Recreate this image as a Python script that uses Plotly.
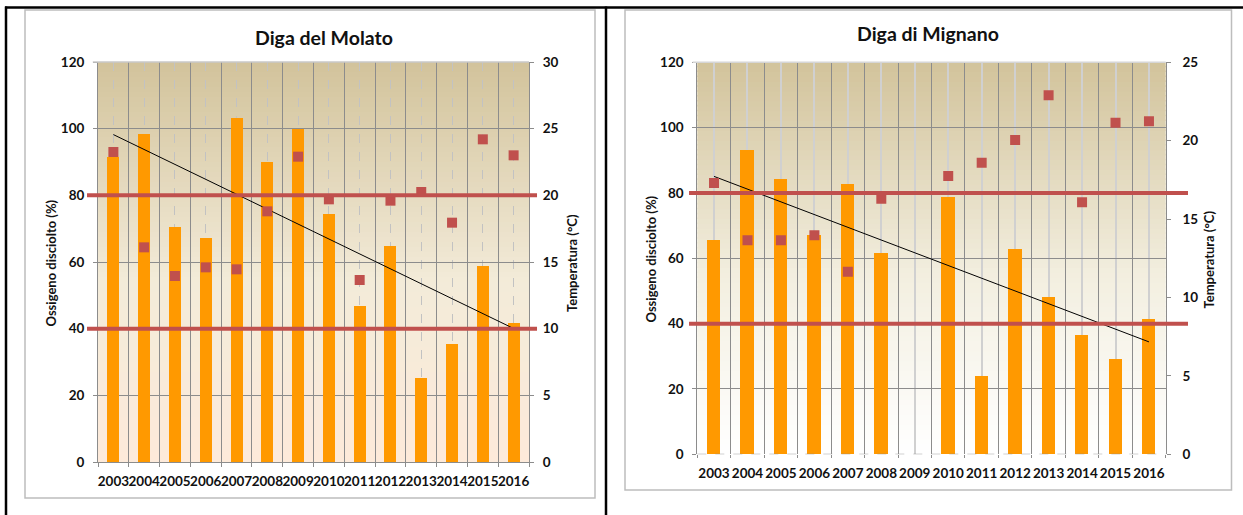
import numpy as np
import plotly.graph_objects as go

W, H = 1243, 515

years = [str(y) for y in range(2003, 2017)]

# Diga del Molato: dissolved oxygen (%) and water temperature (°C)
molato_ossigeno = [91.4, 98.4, 70.5, 67.2, 103.2, 90.0, 99.8, 74.4, 46.8, 64.9, 25.3, 35.4, 58.8, 41.8]
molato_temperatura = [23.25, 16.1, 13.95, 14.6, 14.45, 18.8, 22.9, 19.7, 13.65, 19.6, 20.25, 17.95, 24.2, 23.0]

# Diga di Mignano: no survey in 2009
mignano_ossigeno = [65.4, 93.2, 84.1, 67.0, 82.7, 61.6, None, 78.8, 24.0, 62.8, 48.2, 36.3, 29.2, 41.4]
mignano_temperatura = [17.3, 13.65, 13.65, 13.97, 11.65, 16.3, None, 17.75, 18.6, 20.05, 22.9, 16.07, 21.15, 21.24]

# oxygen saturation reference thresholds (%)
soglie_ossigeno = [40, 80]

FONT = "Lato"
BAR = "#FF9900"
RED = "#C0504D"
GRID = "#8C8C8C"
TXT = "#111111"

pos = list(range(len(years)))


def px_x(v):
    return v / W


def px_y(v):
    return 1 - v / H


def trend(values):
    xs = np.array([i for i, v in enumerate(values) if v is not None], dtype=float)
    ys = np.array([v for v in values if v is not None], dtype=float)
    m, q = np.polyfit(xs, ys, 1)
    xx = [xs.min(), xs.max()]
    return xx, [m * x + q for x in xx]


def lerp_color(stops, t):
    for (t0, c0), (t1, c1) in zip(stops[:-1], stops[1:]):
        if t0 <= t <= t1:
            f = (t - t0) / (t1 - t0) if t1 > t0 else 0
            c = [round(a + (b - a) * f) for a, b in zip(c0, c1)]
            return "rgb(%d,%d,%d)" % tuple(c)
    return "rgb(%d,%d,%d)" % stops[-1][1]


fig = go.Figure()

charts = [
    dict(x="x", y="y", y2="y2", ox=molato_ossigeno, tc=molato_temperatura, bw=0.39),
    dict(x="x2", y="y3", y2="y4", ox=mignano_ossigeno, tc=mignano_temperatura, bw=0.40),
]

for c in charts:
    fig.add_trace(go.Bar(x=pos, y=c["ox"], width=c["bw"], marker=dict(color=BAR, line=dict(width=0)),
                         xaxis=c["x"], yaxis=c["y"], showlegend=False))
    tx, ty = trend(c["ox"])
    fig.add_trace(go.Scatter(x=tx, y=ty, mode="lines", line=dict(color="#000000", width=1),
                             xaxis=c["x"], yaxis=c["y"], showlegend=False))
    fig.add_trace(go.Scatter(x=pos, y=c["tc"], mode="markers",
                             marker=dict(symbol="square", size=10, color=RED, line=dict(width=0)),
                             xaxis=c["x"], yaxis=c["y2"], showlegend=False))

tickfont = dict(family=FONT, size=13.5, color=TXT, weight="bold")
bounds = [i - 0.5 for i in range(len(years) + 1)]

# plot area rectangles in pixels: (left, top, right, bottom)
areaL = (98, 62, 529, 462)
areaR = (697.3, 62.3, 1165.7, 454.3)


def xdom(a):
    return [px_x(a[0]), px_x(a[2])]


def ydom(a):
    return [px_y(a[3]), px_y(a[1])]


common_x = dict(range=[-0.5, len(years) - 0.5], tickvals=pos, ticktext=years, ticks="",
                tickangle=0, tickfont=tickfont, zeroline=False, fixedrange=True,
                automargin=False)
common_y = dict(tick0=0, dtick=5, ticks="outside", ticklen=4, tickcolor=GRID, showline=True,
                linecolor=GRID, zeroline=False, tickfont=tickfont, automargin=False,
                fixedrange=True)

fig.update_layout(
    xaxis=dict(domain=xdom(areaL), anchor="y", showgrid=True, gridcolor="#C2C2C2", griddash="dash",
               gridwidth=1, showline=True, linecolor=GRID, linewidth=1,
               minor=dict(tickvals=bounds, showgrid=True, gridcolor=GRID, gridwidth=1.2,
                          griddash="solid", ticks="outside", ticklen=4, tickcolor=GRID),
               ticklabelstandoff=7, **common_x),
    yaxis=dict(domain=ydom(areaL), anchor="x", range=[0, 120], showgrid=True,
               gridcolor=GRID, gridwidth=1, ticklabelstandoff=6, **{**common_y, "dtick": 20}),
    yaxis2=dict(overlaying="y", anchor="x", side="right", range=[0, 30], showgrid=False,
                ticklabelstandoff=6, **common_y),
    xaxis2=dict(domain=xdom(areaR), anchor="y3", showgrid=True, gridcolor="#D0D0D0",
                gridwidth=1.6, showline=False,
                minor=dict(tickvals=bounds, showgrid=True, gridcolor=GRID, gridwidth=1.2,
                           griddash="solid", ticks="outside", ticklen=3, tickcolor=GRID),
                ticklabelstandoff=9, **common_x),
    yaxis3=dict(domain=ydom(areaR), anchor="x2", range=[0, 120], showgrid=True,
                gridcolor=GRID, gridwidth=1, ticklabelstandoff=6, **{**common_y, "dtick": 20}),
    yaxis4=dict(overlaying="y3", anchor="x2", side="right", range=[0, 25], showgrid=False,
                ticklabelstandoff=9, **common_y),
    width=W, height=H, autosize=False, margin=dict(l=0, r=0, t=0, b=0, pad=0),
    paper_bgcolor="#FFFFFF", plot_bgcolor="rgba(0,0,0,0)",
    bargap=0, showlegend=False,
)

shapes = []

# gradient fill behind each plot area
grad_left = [(0.0, (253, 234, 218)), (0.45, (243, 235, 217)), (1.0, (210, 195, 155))]
grad_right = [(0.0, (255, 255, 255)), (0.45, (243, 239, 224)), (1.0, (210, 195, 155))]
N = 80
for xr, yr, stops in [("x domain", "y domain", grad_left), ("x2 domain", "y3 domain", grad_right)]:
    for i in range(N):
        t = (i + 0.5) / N
        shapes.append(dict(type="rect", xref=xr, yref=yr, x0=0, x1=1, y0=i / N,
                           y1=min(1, (i + 1) / N + 0.004), line=dict(width=0),
                           fillcolor=lerp_color(stops, t), layer="below"))

# light top edge of each plot area
shapes.append(dict(type="line", xref="x domain", yref="y domain", x0=-0.012, x1=1, y0=1, y1=1,
                   line=dict(color="#C8C8C8", width=1.5), layer="above"))
shapes.append(dict(type="line", xref="x2 domain", yref="y3 domain", x0=-0.01, x1=1, y0=1, y1=1,
                   line=dict(color="#D6D6D6", width=1.5), layer="above"))

# dashed base line of the Mignano chart
shapes.append(dict(type="line", xref="x2 domain", yref="y3", x0=0, x1=1, y0=0, y1=0,
                   line=dict(color="#8C8C8C", width=1, dash="dash"), layer="above"))

# oxygen thresholds
for s in soglie_ossigeno:
    shapes.append(dict(type="line", xref="x domain", yref="y", x0=-0.0255, x1=1.0186, y0=s, y1=s,
                       line=dict(color=RED, width=4), layer="above"))
    shapes.append(dict(type="line", xref="x2 domain", yref="y3", x0=-0.0177, x1=1.0476, y0=s, y1=s,
                       line=dict(color=RED, width=4), layer="above"))

# chart frames
for (l, t, r, b) in [(25, 10, 595, 498), (625, 10, 1231.5, 490)]:
    shapes.append(dict(type="rect", xref="paper", yref="paper", x0=px_x(l), x1=px_x(r),
                       y0=px_y(b), y1=px_y(t), line=dict(color="#BDBDBD", width=1.5),
                       fillcolor="rgba(0,0,0,0)", layer="below"))

# table borders
shapes.append(dict(type="line", xref="paper", yref="paper", x0=px_x(5), x1=1, y0=px_y(7.5),
                   y1=px_y(7.5), line=dict(color="#000000", width=2.5), layer="above"))
for xv in (6, 606):
    shapes.append(dict(type="line", xref="paper", yref="paper", x0=px_x(xv), x1=px_x(xv),
                       y0=0, y1=px_y(6.5), line=dict(color="#000000", width=2.5), layer="above"))

fig.update_layout(shapes=shapes)

titlefont = dict(family=FONT, size=19.5, color=TXT, weight="bold")
axtfont = dict(family=FONT, size=13, color=TXT, weight="bold")
ann = [
    dict(text="Diga del Molato", x=px_x(323.5), y=px_y(37), font=titlefont, textangle=0),
    dict(text="Diga di Mignano", x=px_x(928), y=px_y(34), font=titlefont, textangle=0),
    dict(text="Ossigeno disciolto (%)", x=px_x(50), y=px_y(263.5), font=axtfont, textangle=-90),
    dict(text="Temperatura (°C)", x=px_x(572), y=px_y(263), font=axtfont, textangle=-90),
    dict(text="Ossigeno disciolto (%)", x=px_x(650), y=px_y(259.5), font=axtfont, textangle=-90),
    dict(text="Temperatura (°C)", x=px_x(1208), y=px_y(259.5), font=axtfont, textangle=-90),
]
fig.update_layout(annotations=[dict(xref="paper", yref="paper", xanchor="center", yanchor="middle",
                                    showarrow=False, **a) for a in ann])

fig.write_html("out.html", config={"responsive": False})
